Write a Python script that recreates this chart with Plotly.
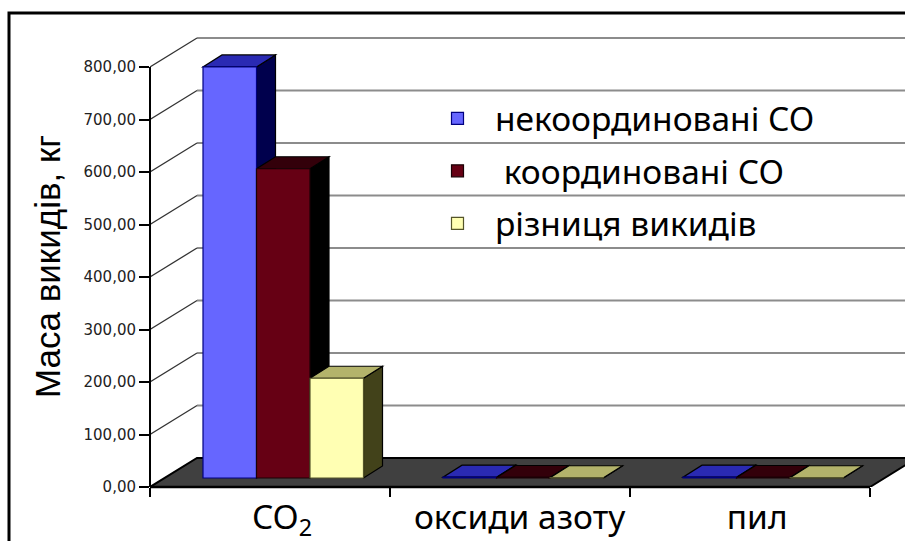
import plotly.graph_objects as go

categories = ["CO<sub>2</sub>", "оксиди азоту", "пил"]
series_names = ["некоординовані СО", "\u00a0координовані СО", "різниця викидів"]
uncoordinated = [783, 1.5, 1.5]
coordinated = [589, 1.0, 1.0]
difference = [190, 0.5, 0.5]
y_ticks = [0, 100, 200, 300, 400, 500, 600, 700, 800]

series = [uncoordinated, coordinated, difference]
front = ["#6666ff", "#660014", "#ffffb3"]
edge = ["#000080", "#1a0005", "#55552a"]
top = ["#2a2ab3", "#33000a", "#b3b36b"]
side = ["#00004d", "#000000", "#42421a"]

PX_X = 240.0            # px per category
PX_Y = 0.525            # px per value unit
L, R, T, B = 150, 0, 30, 55
W, H = 905, 542
x_range = [-0.5, 2.5 + (W - L - 720) / PX_X]
y_range = [0, (H - B - T) / PX_Y]

def ux(px): return px / PX_X
def uy(px): return px / PX_Y
def paper_x(px): return (px - L) / (W - L - R)
def paper_y(py): return 1 - (py - T) / (H - T - B)

wall_dx, wall_dy = ux(47), uy(29)
bar_dx, bar_dy = ux(19), uy(12)
bar_w = ux(53.5)
group_start = ux(53) - 0.5
base = uy(9)

def poly(points, fill, line="#000000", lw=1.2):
    d = "M" + " L".join(f"{x:.4f},{y:.3f}" for x, y in points) + " Z"
    return dict(type="path", path=d, xref="x", yref="y", layer="below",
                fillcolor=fill, line=dict(color=line, width=lw))

def seg(x0, y0, x1, y1, color, lw):
    return dict(type="line", x0=x0, y0=y0, x1=x1, y1=y1, xref="x", yref="y",
                layer="below", line=dict(color=color, width=lw))

shapes = []
# outer frame
shapes.append(dict(type="path", xref="paper", yref="paper", layer="below",
                   path=f"M{paper_x(9)},{paper_y(541)} L{paper_x(9)},{paper_y(13)} L{paper_x(905)},{paper_y(13)}",
                   line=dict(color="#000000", width=3)))
# walls' grid
for v in y_ticks:
    if v > 0:
        shapes.append(seg(-0.5 + wall_dx, v + wall_dy, x_range[1], v + wall_dy, "#8c8c8c", 2))
        shapes.append(seg(-0.5, v, -0.5 + wall_dx, v + wall_dy, "#333333", 1.3))
# floor
shapes.append(poly([(-0.5, 0), (2.5, 0), (2.5 + wall_dx, wall_dy), (-0.5 + wall_dx, wall_dy)],
                   "#404040", "#000000", 2))
# bar side and top faces
for c in range(len(categories)):
    for s, vals in enumerate(series):
        x0 = c + group_start + s * bar_w
        x1 = x0 + bar_w
        y0, y1 = base, base + vals[c]
        shapes.append(poly([(x1, y0), (x1 + bar_dx, y0 + bar_dy), (x1 + bar_dx, y1 + bar_dy), (x1, y1)], side[s]))
        shapes.append(poly([(x0, y1), (x1, y1), (x1 + bar_dx, y1 + bar_dy), (x0 + bar_dx, y1 + bar_dy)], top[s]))
# axis lines
shapes.append(dict(type="line", xref="paper", yref="y", x0=0, x1=0, y0=0, y1=800, layer="above",
                   line=dict(color="#000000", width=2)))
shapes.append(dict(type="line", xref="x", yref="paper", x0=-0.5, x1=2.5, y0=0, y1=0, layer="above",
                   line=dict(color="#000000", width=2.5)))

fig = go.Figure()
for s, vals in enumerate(series):
    fig.add_bar(
        x=[c + group_start + (s + 0.5) * bar_w for c in range(len(categories))],
        y=vals, base=base, width=bar_w, name=series_names[s], legendgroup=str(s),
        marker=dict(color=front[s], line=dict(color=edge[s], width=1.2)),
    )

text_font = "Noto Sans"
fig.update_layout(
    width=W, height=H, autosize=False,
    margin=dict(l=L, r=R, t=T, b=B),
    paper_bgcolor="#ffffff", plot_bgcolor="#ffffff",
    separators=", ",
    barmode="overlay",
    shapes=shapes,
    showlegend=True,
    legend=dict(x=paper_x(420), y=paper_y(90), xanchor="left", yanchor="top",
                bgcolor="rgba(0,0,0,0)", tracegroupgap=6, itemwidth=65,
                font=dict(family=text_font, size=33.5, color="#000000")),
    xaxis=dict(range=x_range, showgrid=False, zeroline=False, showline=False,
               tickmode="array", tickvals=[0.05, 1.04, 2.03], ticktext=categories,
               ticks="", ticklabelstandoff=7,
               tickfont=dict(family=text_font, size=33.5, color="#000000"),
               minor=dict(tickmode="array", tickvals=[-0.5, 0.5, 1.5, 2.5], ticks="outside",
                          ticklen=9, tickwidth=2, tickcolor="#000000", showgrid=False)),
    yaxis=dict(range=y_range, showgrid=False, zeroline=False, showline=False,
               tickmode="array", tickvals=y_ticks, tickformat=".2f",
               ticks="outside", ticklen=10, tickwidth=2, tickcolor="#000000",
               tickfont=dict(family="DejaVu Sans", size=15, color="#222222")),
    annotations=[dict(text="Маса викидів, кг", xref="paper", yref="paper",
                      x=paper_x(47), y=paper_y(267), xanchor="center", yanchor="middle",
                      textangle=-90, showarrow=False,
                      font=dict(family="Liberation Sans", size=35, color="#000000"))],
)
fig.write_html("out.html", config={"displayModeBar": False},
               post_script="document.body.style.margin='0';document.body.style.overflow='hidden';")
